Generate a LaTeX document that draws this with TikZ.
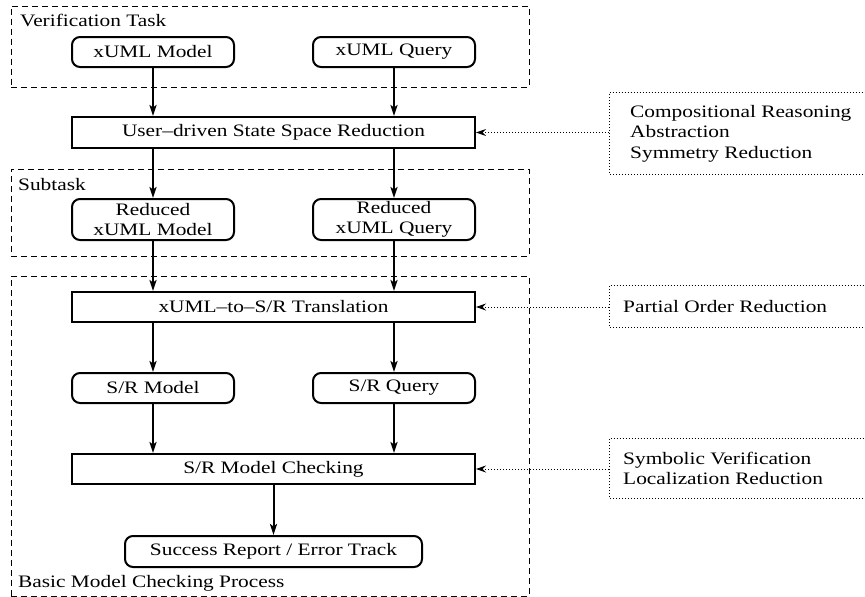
\documentclass[tikz,border=0pt]{standalone}
\usepackage{fontspec}
\setmainfont{Liberation Serif}[FakeStretch=1.22]
\usetikzlibrary{arrows.meta}
\newcommand\dfont{\fontsize{17.5}{20.5}\selectfont}
\begin{document}
\begin{tikzpicture}[x=1pt,y=-1pt,
  every node/.style={font=\dfont},
  procbox/.style={draw, line width=2pt, inner sep=0pt, align=center},
  rbox/.style={procbox, rounded corners=8pt},
  group/.style={draw, line width=1pt, dash pattern=on 6pt off 4pt, inner sep=0pt},
  grouplabel/.style={anchor=base west, inner sep=0pt},
  flow/.style={line width=2pt, -{Stealth[length=11pt,width=7pt,inset=2.5pt]}},
  hint/.style={line width=1pt, dash pattern=on 1pt off 2pt, -{Stealth[length=10pt,width=7pt,inset=3.5pt]}},
  notebox/.style={anchor=west, align=left, inner ysep=0pt},
  notebd/.style={line width=1pt, dash pattern=on 1pt off 2pt}]
\useasboundingbox (0,0) rectangle (865,597);

% groups
\node[group, minimum width=518pt, minimum height=81pt] (vt) at (270,46.5) {};
\node[group, minimum width=518pt, minimum height=87pt] (sub) at (270,212.5) {};
\node[group, minimum width=518pt, minimum height=320pt] (basic) at (270,436) {};
\node[grouplabel] (vtl) at (20,27) {Verification Task};
\node[grouplabel] (subl) at (18,190) {Subtask};
\node[grouplabel] (basicl) at (18,587) {Basic Model Checking Process};

% process nodes
\node[rbox, minimum width=162pt, minimum height=30pt] (xm) at (153,52) {xUML Model};
\node[rbox, minimum width=162pt, minimum height=30pt] (xq) at (394,52) {xUML Query};
\node[procbox, minimum width=403pt, minimum height=31pt] (urd) at (273.5,132.5) {User--driven State Space Reduction};
\node[rbox, minimum width=162pt, minimum height=41pt] (rm) at (153,219.5) {Reduced\\xUML Model};
\node[rbox, minimum width=162pt, minimum height=41pt] (rq) at (394,219.5) {Reduced\\xUML Query};
\node[procbox, minimum width=403pt, minimum height=30pt] (tr) at (273.5,307) {xUML--to--S/R Translation};
\node[rbox, minimum width=162pt, minimum height=30pt] (sm) at (153,388) {S/R Model};
\node[rbox, minimum width=162pt, minimum height=30pt] (sq) at (394,388) {S/R Query};
\node[procbox, minimum width=403pt, minimum height=30pt] (chk) at (273.5,469) {S/R Model Checking};
\node[rbox, minimum width=297pt, minimum height=31pt] (suc) at (273.5,551.5) {Success Report / Error Track};

% notes
\node[notebox, minimum height=81pt, inner xsep=21pt] (n1) at (609,133.5) {Compositional Reasoning\\Abstraction\\Symmetry Reduction};
\node[notebox, minimum height=41pt, inner xsep=14pt] (n2) at (609,306.5) {Partial Order Reduction};
\node[notebox, minimum height=59pt, inner xsep=14pt] (n3) at (609,468.5) {Symbolic Verification\\Localization Reduction};
\draw[notebd] (n1.south west) ++(257,0) -- (n1.south west) -- (n1.north west) -- ++(257,0);
\draw[notebd] (n2.south west) ++(257,0) -- (n2.south west) -- (n2.north west) -- ++(257,0);
\draw[notebd] (n3.south west) ++(257,0) -- (n3.south west) -- (n3.north west) -- ++(257,0);

% flow arrows
\draw[flow] (xm.south) -- (xm.south |- urd.north);
\draw[flow] (xq.south) -- (xq.south |- urd.north);
\draw[flow] (rm.north |- urd.south) -- (rm.north);
\draw[flow] (rq.north |- urd.south) -- (rq.north);
\draw[flow] (rm.south) -- (rm.south |- tr.north);
\draw[flow] (rq.south) -- (rq.south |- tr.north);
\draw[flow] (sm.north |- tr.south) -- (sm.north);
\draw[flow] (sq.north |- tr.south) -- (sq.north);
\draw[flow] (sm.south) -- (sm.south |- chk.north);
\draw[flow] (sq.south) -- (sq.south |- chk.north);
\draw[flow] (chk.south) -- (suc.north);

% hint arrows
\draw[hint] (n1.west |- urd.east) -- (urd.east);
\draw[hint] (n2.west |- tr.east) -- (tr.east);
\draw[hint] (n3.west |- chk.east) -- (chk.east);
\end{tikzpicture}
\end{document}
